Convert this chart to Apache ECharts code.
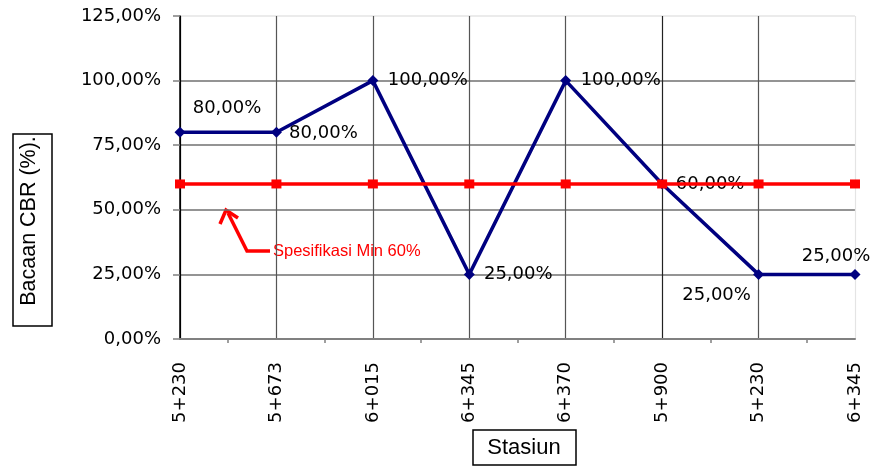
<!DOCTYPE html>
<html>
<head>
<meta charset="utf-8">
<script src="https://cdn.jsdelivr.net/npm/echarts@6/dist/echarts.min.js"></script>
<style>
  html, body { margin: 0; padding: 0; background: #fff; }
  #chart { width: 872px; height: 466px; }
</style>
</head>
<body>
<div id="chart"></div>
<script>
var stasiun = ['5+230', '5+673', '6+015', '6+345', '6+370', '5+900', '5+230', '6+345'];
var bacaanCBR = [80, 80, 100, 25, 100, 60, 25, 25];
var spesifikasi = [60, 60, 60, 60, 60, 60, 60, 60];
var yTicks = { min: 0, max: 125, step: 25 };

// offset label tiap titik (relatif ke titik)
var labelOffset = [[47, -24], [47, 1], [55, 0], [49, 0], [55, 0], [48, 0], [-42, 21], [-19, -18]];

function persen(v) {
    return v.toFixed(2).replace('.', ',') + '%';
}

// sumbu bantu untuk tick di antara kategori
var tickCat = [];
for (var i = 0; i < stasiun.length; i++) {
    tickCat.push(stasiun[i]);
    if (i < stasiun.length - 1) tickCat.push('');
}

var chart = echarts.init(document.getElementById('chart'));
var option = {
    animation: false,
    grid: { left: 180, right: 17, top: 16, bottom: 127 },
    xAxis: [
        {
            type: 'category',
            data: stasiun,
            boundaryGap: false,
            axisLine: { lineStyle: { color: '#808080', width: 2 } },
            axisTick: { show: false },
            axisLabel: {
                rotate: 90, margin: 23, color: '#000',
                fontFamily: 'DejaVu Sans', fontSize: 18
            },
            splitLine: {
                show: true,
                lineStyle: { color: ['#000', '#555', '#555', '#555', '#555', '#222', '#555', '#e4e4e4'], width: 1.2 }
            }
        },
        {
            type: 'category',
            data: tickCat,
            boundaryGap: false,
            position: 'bottom',
            axisLine: { show: false },
            axisLabel: { show: false },
            axisTick: {
                show: true, length: 4,
                interval: function (idx) { return idx % 2 === 1; },
                lineStyle: { color: '#808080', width: 1.5 }
            },
            splitLine: { show: false }
        }
    ],
    yAxis: {
        type: 'value',
        min: yTicks.min, max: yTicks.max, interval: yTicks.step,
        axisLine: { show: true, lineStyle: { color: '#000', width: 1.5 } },
        axisTick: { show: true, length: 7, lineStyle: { color: '#808080', width: 1.5 } },
        axisLabel: {
            margin: 19, color: '#000', formatter: persen,
            fontFamily: 'DejaVu Sans', fontSize: 18
        },
        splitLine: {
            lineStyle: { color: ['#808080', '#707070', '#707070', '#707070', '#707070', '#e4e4e4'], width: 1.5 }
        }
    },
    series: [
        {
            name: 'Bacaan CBR',
            type: 'line',
            data: bacaanCBR.map(function (v, i) {
                return { value: v, label: { offset: labelOffset[i] } };
            }),
            color: '#000080',
            lineStyle: { width: 3.5, color: '#000080' },
            symbol: 'diamond',
            symbolSize: 11,
            itemStyle: { color: '#000080' },
            label: {
                show: true, position: 'inside',
                align: 'center', verticalAlign: 'middle',
                color: '#000', fontFamily: 'DejaVu Sans', fontSize: 18,
                formatter: function (p) { return persen(p.value); }
            },
            z: 3
        },
        {
            name: 'Spesifikasi',
            type: 'line',
            data: spesifikasi,
            color: '#ff0000',
            lineStyle: { width: 3.5, color: '#ff0000' },
            symbol: 'rect',
            symbolSize: [10, 9],
            itemStyle: { color: '#ff0000' },
            z: 4
        }
    ],
    graphic: [
        // judul sumbu Y
        {
            type: 'rect',
            shape: { x: 13, y: 134, width: 39, height: 192 },
            style: { fill: '#fff', stroke: '#000', lineWidth: 1.5 }
        },
        {
            type: 'text',
            x: 29, y: 221, rotation: Math.PI / 2,
            style: {
                text: 'Bacaan CBR (%).', fill: '#000',
                font: '21.5px "Liberation Sans"',
                align: 'center', verticalAlign: 'middle'
            }
        },
        // judul sumbu X
        {
            type: 'rect',
            shape: { x: 473, y: 430, width: 103, height: 35 },
            style: { fill: '#fff', stroke: '#000', lineWidth: 1.5 }
        },
        {
            type: 'text',
            x: 524, y: 448,
            style: {
                text: 'Stasiun', fill: '#000',
                font: '22px "Liberation Sans"',
                align: 'center', verticalAlign: 'middle'
            }
        },
        // anotasi spesifikasi
        {
            type: 'polyline',
            shape: { points: [[270, 251], [247, 251], [228, 213]] },
            style: { stroke: '#ff0000', lineWidth: 3.5, fill: null }
        },
        {
            type: 'polyline',
            shape: { points: [[220, 224], [226, 210], [238, 218]] },
            style: { stroke: '#ff0000', lineWidth: 3.5, fill: null }
        },
        {
            type: 'text',
            x: 273, y: 251,
            style: {
                text: 'Spesifikasi Min 60%', fill: '#ff0000',
                font: '16.5px "Liberation Sans"',
                align: 'left', verticalAlign: 'middle'
            }
        }
    ]
};
chart.setOption(option);
window.addEventListener('resize', chart.resize);
</script>
</body>
</html>
